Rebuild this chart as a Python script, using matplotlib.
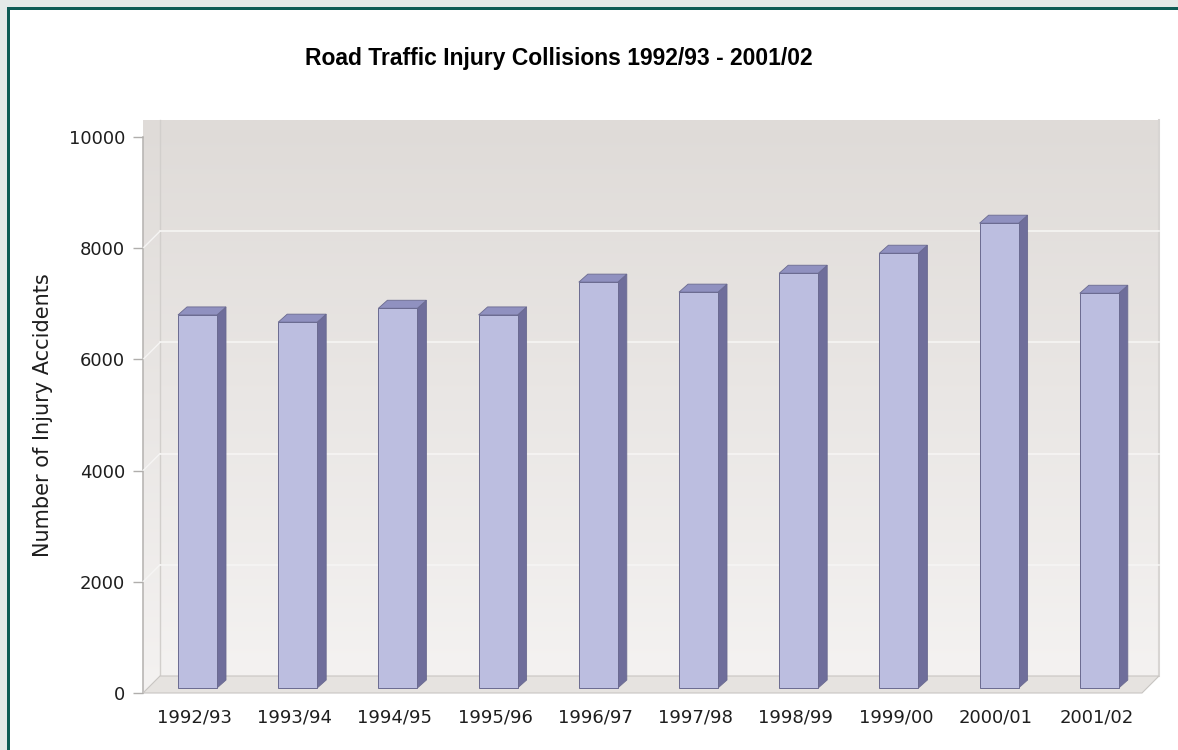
import numpy as np
import matplotlib
matplotlib.use("Agg")
import matplotlib.pyplot as plt
from matplotlib.patches import Polygon, Rectangle

# ---- data ----
categories = ["1992/93", "1993/94", "1994/95", "1995/96", "1996/97",
              "1997/98", "1998/99", "1999/00", "2000/01", "2001/02"]
collisions = [6710, 6580, 6830, 6710, 7300, 7120, 7460, 7820, 8360, 7100]
y_ticks = [0, 2000, 4000, 6000, 8000, 10000]
title = "Road Traffic Injury Collisions 1992/93 - 2001/02"
ylabel = "Number of Injury Accidents"

W, H = 1178, 750
fig = plt.figure(figsize=(W / 100, H / 100), dpi=100)
fig.patch.set_facecolor("white")

# outer margin + green frame (top/left visible only)
fig.patches.append(Rectangle((0, 0), 1, 1, transform=fig.transFigure,
                             facecolor="#e5eae8", edgecolor="none", zorder=-10))
fig.patches.append(Rectangle((7 / W, -0.1), 1.2, (H - 7) / H + 0.1, transform=fig.transFigure,
                             facecolor="#0f5c55", edgecolor="none", zorder=-9))
fig.patches.append(Rectangle((10 / W, -0.1), 1.2, (H - 10) / H + 0.1, transform=fig.transFigure,
                             facecolor="white", edgecolor="none", zorder=-8))

# axes = front plane
ax_l, ax_r, ax_b, ax_t = 143, 1142, 693, 137
ax = fig.add_axes([ax_l / W, 1 - ax_b / H, (ax_r - ax_l) / W, (ax_b - ax_t) / H])
ax.patch.set_alpha(0)
x0, x1 = -0.494, 9.476
y0, y1 = 0, 10000
px_x = (ax_r - ax_l) / (x1 - x0)
px_y = (ax_b - ax_t) / (y1 - y0)

# depth offsets (data units)
wdx, wdy = 17 / px_x, 17 / px_y      # wall depth
bdx, bdy = 5 / px_x, 5 / px_y        # bar position depth
sdx, sdy = 9 / px_x, 8 / px_y        # bar thickness
bw = 39 / px_x

# back wall gradient
grad = np.linspace(0, 1, 256).reshape(-1, 1)
top_c = np.array([0xdf, 0xdb, 0xd8]) / 255
bot_c = np.array([0xf4, 0xf2, 0xf1]) / 255
img = top_c * (1 - grad[..., None]) + bot_c * grad[..., None]
img = np.repeat(img, 2, axis=1)
ax.imshow(img, extent=[x0 + wdx, x1 + wdx, y0 + wdy, y1 + wdy], aspect="auto",
          origin="upper", zorder=0, clip_on=False, interpolation="bilinear")

# left wall
lw = Polygon([(x0, y0), (x0 + wdx, y0 + wdy), (x0 + wdx, y1 + wdy), (x0, y1)],
             closed=True, clip_on=False, zorder=0.5, facecolor="none", edgecolor="none")
ax.add_patch(lw)
im2 = ax.imshow(img, extent=[x0, x0 + wdx, y0, y1 + wdy], aspect="auto",
                origin="upper", zorder=0.5, clip_on=False, interpolation="bilinear")
im2.set_clip_path(lw)
ax.plot([x0, x0], [y0, y1], color="#b9b6b4", lw=1.2, clip_on=False, zorder=1)
ax.plot([x0 + wdx, x0 + wdx], [y0 + wdy, y1 + wdy], color="#d2cfcc", lw=1, clip_on=False, zorder=1)
ax.plot([x1 + wdx, x1 + wdx], [y0 + wdy, y1 + wdy], color="#d8d5d3", lw=1.5, clip_on=False, zorder=1)

# grid lines on walls
for v in y_ticks[1:-1]:
    ax.plot([x0 + wdx, x1 + wdx], [v + wdy, v + wdy], color="#f6f5f4", lw=1.2, zorder=1, clip_on=False)
    ax.plot([x0, x0 + wdx], [v, v + wdy], color="#f6f5f4", lw=1.0, zorder=1, clip_on=False)

# floor
floor = Polygon([(x0, y0), (x1, y0), (x1 + wdx, y0 + wdy), (x0 + wdx, y0 + wdy)],
                closed=True, facecolor="#e6e3e0", edgecolor="#c8c5c2", lw=0.8,
                clip_on=False, zorder=1.5)
ax.add_patch(floor)

# bars
xs = np.arange(len(categories))
front_c, side_c, top_c2, edge_c = "#bcbee0", "#6f6e9b", "#9091c0", "#6a6a90"
ax.bar(xs + bdx, collisions, width=bw, bottom=bdy, color=front_c,
       edgecolor=edge_c, linewidth=0.7, zorder=3, clip_on=False)
for x, v in zip(xs, collisions):
    xl = x + bdx - bw / 2
    xr = x + bdx + bw / 2
    top = v + bdy
    ax.add_patch(Polygon([(xr, bdy), (xr + sdx, bdy + sdy), (xr + sdx, top + sdy), (xr, top)],
                         closed=True, facecolor=side_c, edgecolor=edge_c, lw=0.6,
                         zorder=2.9, clip_on=False))
    ax.add_patch(Polygon([(xl, top), (xr, top), (xr + sdx, top + sdy), (xl + sdx, top + sdy)],
                         closed=True, facecolor=top_c2, edgecolor=edge_c, lw=0.6,
                         zorder=2.9, clip_on=False))

ax.set_xlim(x0, x1)
ax.set_ylim(y0, y1)
for s in ax.spines.values():
    s.set_visible(False)

ax.set_xticks(xs + 0.02)
ax.set_xticklabels(categories, family="DejaVu Sans", fontsize=13, color="#1e1e1e")
ax.tick_params(axis="x", length=0, pad=11)
ax.set_yticks(y_ticks)
ax.set_yticklabels([str(t) for t in y_ticks], family="DejaVu Sans", fontsize=13, color="#1e1e1e")
ax.tick_params(axis="y", length=7, color="#b0aeac", width=1, pad=6)

ax.set_ylabel(ylabel, family="DejaVu Sans", fontsize=15, color="#1e1e1e")
ax.yaxis.set_label_coords((53 - ax_l) / (ax_r - ax_l), 0.5)

fig.text(559 / W, 1 - 59 / H, title, ha="center", va="center",
         family="Liberation Sans", fontweight="bold", fontsize=16.5, color="black")

fig.savefig("out.png", dpi=100)
